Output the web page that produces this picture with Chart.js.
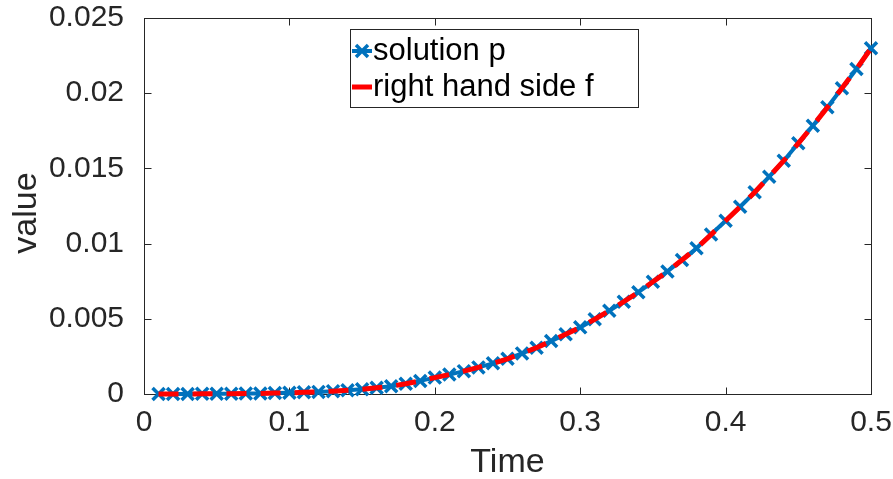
<!DOCTYPE html>
<html>
<head>
<meta charset="utf-8">
<title>solution p vs right hand side f</title>
<script src="https://cdn.jsdelivr.net/npm/chart.js@4/dist/chart.umd.min.js"></script>
<style>
  html, body { margin: 0; padding: 0; background: #ffffff; }
  #wrap { width: 893px; height: 479px; }
</style>
</head>
<body>
<div id="wrap"><canvas id="plot" width="893" height="479"></canvas></div>
<script>
/* solution p vs right hand side f over time (MATLAB-style box plot) */

const TIME = [
  0.01, 0.02, 0.03, 0.04, 0.05, 0.06, 0.07, 0.08, 0.09, 0.10,
  0.11, 0.12, 0.13, 0.14, 0.15, 0.16, 0.17, 0.18, 0.19, 0.20,
  0.21, 0.22, 0.23, 0.24, 0.25, 0.26, 0.27, 0.28, 0.29, 0.30,
  0.31, 0.32, 0.33, 0.34, 0.35, 0.36, 0.37, 0.38, 0.39, 0.40,
  0.41, 0.42, 0.43, 0.44, 0.45, 0.46, 0.47, 0.48, 0.49, 0.50
];

const SOLUTION_P = [
  0.00000, 0.00000, 0.00000, 0.00001, 0.00001, 0.00002, 0.00003, 0.00004, 0.00006, 0.00008,
  0.00011, 0.00014, 0.00019, 0.00025, 0.00032, 0.00041, 0.00052, 0.00068, 0.00087, 0.00109,
  0.00129, 0.00152, 0.00177, 0.00204, 0.00234, 0.00270, 0.00308, 0.00352, 0.00397, 0.00443,
  0.00497, 0.00554, 0.00614, 0.00677, 0.00746, 0.00815, 0.00891, 0.00969, 0.01060, 0.01152,
  0.01245, 0.01341, 0.01445, 0.01551, 0.01667, 0.01784, 0.01906, 0.02033, 0.02161, 0.02299
];

const RHS_F = [
  0.00000, 0.00000, 0.00000, 0.00001, 0.00001, 0.00002, 0.00003, 0.00004, 0.00006, 0.00008,
  0.00011, 0.00014, 0.00019, 0.00025, 0.00032, 0.00041, 0.00052, 0.00068, 0.00087, 0.00109,
  0.00129, 0.00152, 0.00177, 0.00204, 0.00234, 0.00270, 0.00308, 0.00352, 0.00397, 0.00443,
  0.00497, 0.00554, 0.00614, 0.00677, 0.00746, 0.00815, 0.00891, 0.00969, 0.01060, 0.01152,
  0.01245, 0.01341, 0.01445, 0.01551, 0.01667, 0.01784, 0.01906, 0.02033, 0.02161, 0.02299
];

const X_TICKS  = [0, 0.1, 0.2, 0.3, 0.4, 0.5];
const X_LABELS = ['0', '0.1', '0.2', '0.3', '0.4', '0.5'];
const Y_TICKS  = [0, 0.005, 0.01, 0.015, 0.02, 0.025];
const Y_LABELS = ['0', '0.005', '0.01', '0.015', '0.02', '0.025'];

const SERIES_NAMES = ['solution p', 'right hand side f'];
const X_TITLE = 'Time';
const Y_TITLE = 'value';

const BLUE = '#0072BD';
const RED  = '#FF0000';
const AXIS = '#262626';
const FONT = '"Liberation Sans", Arial, Helvetica, sans-serif';

function pts(ys) {
  return TIME.map(function (t, i) { return { x: t, y: ys[i] }; });
}

function labelFor(ticks, labels) {
  return function (v) {
    for (let i = 0; i < ticks.length; i++) {
      if (Math.abs(ticks[i] - v) < 1e-9) return labels[i];
    }
    return '';
  };
}

/* box, inward ticks, axis titles and the legend, drawn MATLAB-like */
const matlabFrame = {
  id: 'matlabFrame',
  beforeDatasetsDraw: function (chart) {
    const ctx = chart.ctx;
    const a = chart.chartArea;
    const xs = chart.scales.x, ys = chart.scales.y;
    const L = Math.round(a.left) + 0.5, R = Math.round(a.right) + 0.5;
    const T = Math.round(a.top) + 0.5, B = Math.round(a.bottom) + 0.5;
    ctx.save();
    ctx.strokeStyle = AXIS;
    ctx.lineWidth = 1;
    ctx.strokeRect(L, T, R - L, B - T);
    ctx.beginPath();
    X_TICKS.forEach(function (v) {
      const px = Math.round(xs.getPixelForValue(v)) + 0.5;
      ctx.moveTo(px, B); ctx.lineTo(px, B - 7);
      ctx.moveTo(px, T); ctx.lineTo(px, T + 7);
    });
    Y_TICKS.forEach(function (v) {
      const py = Math.round(ys.getPixelForValue(v)) + 0.5;
      ctx.moveTo(L, py); ctx.lineTo(L + 7, py);
      ctx.moveTo(R, py); ctx.lineTo(R - 7, py);
    });
    ctx.stroke();

    // axis titles
    ctx.fillStyle = AXIS;
    ctx.font = '34px ' + FONT;
    ctx.textAlign = 'center';
    ctx.textBaseline = 'alphabetic';
    ctx.fillText(X_TITLE, (a.left + a.right) / 2, 472);
    ctx.save();
    ctx.translate(36, 213);
    ctx.rotate(-Math.PI / 2);
    ctx.fillText(Y_TITLE, 0, 0);
    ctx.restore();
    ctx.restore();
  },
  afterDraw: function (chart) {
    const ctx = chart.ctx;
    ctx.save();
    // legend box
    ctx.fillStyle = '#ffffff';
    ctx.fillRect(350.5, 29.5, 288, 78);
    ctx.strokeStyle = AXIS;
    ctx.lineWidth = 1;
    ctx.strokeRect(350.5, 29.5, 288, 78);

    // solution p sample
    ctx.strokeStyle = BLUE;
    ctx.lineWidth = 4;
    ctx.beginPath();
    ctx.moveTo(352, 51); ctx.lineTo(372, 51);
    ctx.stroke();
    ctx.lineWidth = 3.5;
    ctx.beginPath();
    ctx.moveTo(356, 45); ctx.lineTo(368, 57);
    ctx.moveTo(368, 45); ctx.lineTo(356, 57);
    ctx.stroke();

    // right hand side f sample
    ctx.strokeStyle = RED;
    ctx.lineWidth = 5;
    ctx.beginPath();
    ctx.moveTo(352, 87); ctx.lineTo(372, 87);
    ctx.stroke();

    ctx.fillStyle = '#000000';
    ctx.font = '31px ' + FONT;
    ctx.textAlign = 'left';
    ctx.textBaseline = 'alphabetic';
    ctx.fillText(SERIES_NAMES[0], 373, 60);
    ctx.fillText(SERIES_NAMES[1], 373, 96);
    ctx.restore();
  }
};

new Chart(document.getElementById('plot'), {
  type: 'line',
  data: {
    datasets: [
      {
        label: SERIES_NAMES[0],
        data: pts(SOLUTION_P),
        borderColor: BLUE,
        backgroundColor: BLUE,
        borderWidth: 4,
        pointStyle: 'crossRot',
        pointRadius: 8.5,
        pointBorderWidth: 3.5,
        pointBorderColor: BLUE,
        tension: 0,
        clip: false,
        order: 1
      },
      {
        label: SERIES_NAMES[1],
        data: pts(RHS_F),
        borderColor: RED,
        backgroundColor: RED,
        borderWidth: 5,
        borderDash: [20, 14],
        pointRadius: 0,
        tension: 0,
        clip: false,
        order: 0
      }
    ]
  },
  options: {
    responsive: false,
    animation: false,
    devicePixelRatio: 1,
    layout: { padding: { top: 18, right: 22, left: 0, bottom: 0 } },
    plugins: {
      legend: { display: false },
      tooltip: { enabled: false }
    },
    scales: {
      x: {
        type: 'linear',
        min: 0,
        max: 0.5,
        grid: { display: false, drawTicks: false },
        border: { display: false },
        afterBuildTicks: function (s) { s.ticks = X_TICKS.map(function (v) { return { value: v }; }); },
        afterFit: function (s) { s.height = 85; s.paddingLeft = 0; s.paddingRight = 0; },
        ticks: {
          color: AXIS,
          padding: 11,
          maxRotation: 0,
          autoSkip: false,
          font: { family: FONT, size: 30 },
          callback: labelFor(X_TICKS, X_LABELS)
        }
      },
      y: {
        type: 'linear',
        min: 0,
        max: 0.025,
        grid: { display: false, drawTicks: false },
        border: { display: false },
        afterBuildTicks: function (s) { s.ticks = Y_TICKS.map(function (v) { return { value: v }; }); },
        afterFit: function (s) { s.width = 144; s.paddingTop = 0; s.paddingBottom = 0; },
        ticks: {
          color: AXIS,
          padding: 20,
          autoSkip: false,
          font: { family: FONT, size: 30 },
          callback: labelFor(Y_TICKS, Y_LABELS)
        }
      }
    }
  },
  plugins: [matlabFrame]
});
</script>
</body>
</html>
